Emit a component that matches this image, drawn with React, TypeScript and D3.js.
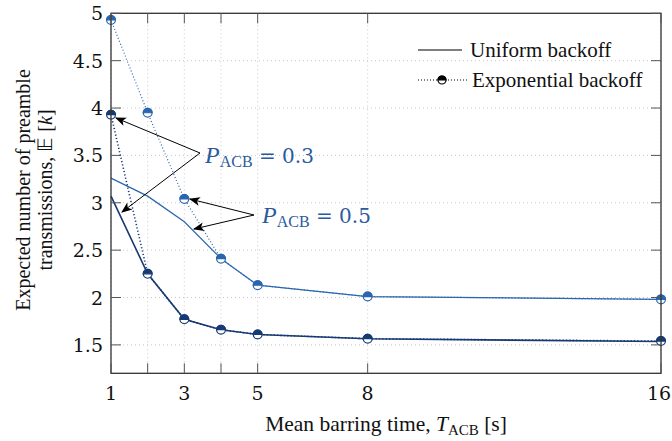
import React from "react";
import * as d3 from "d3";

const xValues = [1, 2, 3, 4, 5, 8, 16];
const uniform03 = [3.07, 2.25, 1.77, 1.66, 1.61, 1.565, 1.535];
const expo03 = [3.93, 2.25, 1.77, 1.66, 1.61, 1.565, 1.54];
const uniform05 = [3.26, 3.07, 2.8, 2.41, 2.13, 2.01, 1.98];
const expo05 = [4.93, 3.95, 3.04, 2.41, 2.13, 2.01, 1.98];
const xTicks = [1, 2, 3, 4, 5, 8, 16];
const xTickLabels = [1, 3, 5, 8, 16];
const yTicks = [1.5, 2, 2.5, 3, 3.5, 4, 4.5, 5];

const DARK = "#173a74";
const BLUE = "#2a66b0";
const TEXTBLUE = "#2a5a9e";
const SERIF = "'Liberation Serif', 'Times New Roman', serif";
const NUMF = "'DejaVu Serif', serif";

const W = 672, H = 441;
const L = 111, R = 661, T = 13.3, B = 373.3;

export default function App() {
  const x = d3.scaleLinear().domain([1, 16]).range([L, R]);
  const y = d3.scaleLinear().domain([1.2, 5]).range([B, T]);
  const line = d3.line<number>().x((_, i) => x(xValues[i])).y((d) => y(d));

  const halfMarker = (cx: number, cy: number, color: string, key: string, r = 4.4) => (
    <g key={key}>
      <circle cx={cx} cy={cy} r={r} fill="white" stroke={color} strokeWidth={1.2} />
      <path d={`M${cx - r},${cy} A${r},${r} 0 0 1 ${cx + r},${cy} Z`} fill={color} stroke={color} strokeWidth={1.2} />
    </g>
  );

  const arrow = (x1: number, y1: number, x2: number, y2: number, key: string) => (
    <line key={key} x1={x1} y1={y1} x2={x2} y2={y2} stroke="black" strokeWidth={1} markerEnd="url(#arrowhead)" />
  );

  const pLabel = (tx: number, ty: number, val: string) => (
    <text x={tx} y={ty} fill={TEXTBLUE} style={{ fontFamily: SERIF }} fontSize={24}>
      <tspan fontStyle="italic">P</tspan>
      <tspan fontSize={16} dy={4}>ACB</tspan>
      <tspan dy={-4} style={{ fontFamily: NUMF }} fontSize={20}> = {val}</tspan>
    </text>
  );

  return (
    <svg width={W} height={H} style={{ position: "absolute", left: 0, top: 0, background: "white" }}>
      <defs>
        <marker id="arrowhead" viewBox="0 0 10 10" refX="9" refY="5" markerWidth="11" markerHeight="11" markerUnits="userSpaceOnUse" orient="auto">
          <path d="M0,1 L10,5 L0,9 L2.5,5 Z" fill="black" />
        </marker>
      </defs>
      <rect x={0} y={0} width={W} height={H} fill="white" />
      {xTicks.map((t) => (
        <line key={"gx" + t} x1={x(t)} x2={x(t)} y1={T} y2={B} stroke="#c8c8c8" strokeWidth={1} strokeDasharray="1 3" />
      ))}
      {yTicks.map((t) => (
        <line key={"gy" + t} x1={L} x2={R} y1={y(t)} y2={y(t)} stroke="#c8c8c8" strokeWidth={1} strokeDasharray="1 3" />
      ))}
      <path d={line(uniform05) || ""} fill="none" stroke={BLUE} strokeWidth={1.2} />
      <path d={line(expo05) || ""} fill="none" stroke={BLUE} strokeWidth={1.2} strokeDasharray="1 2.2" />
      <path d={line(uniform03) || ""} fill="none" stroke={DARK} strokeWidth={1.6} />
      <path d={line(expo03) || ""} fill="none" stroke={DARK} strokeWidth={1.6} strokeDasharray="1.2 2.2" />
      {expo05.map((v, i) => halfMarker(x(xValues[i]), y(v), BLUE, "m5" + i))}
      {expo03.map((v, i) => halfMarker(x(xValues[i]), y(v), DARK, "m3" + i))}
      <rect x={L} y={T} width={R - L} height={B - T} fill="none" stroke="#333" strokeWidth={1.3} />
      {xTicks.map((t) => (
        <g key={"tx" + t}>
          <line x1={x(t)} x2={x(t)} y1={B} y2={B - 10} stroke="#555" strokeWidth={1} />
          <line x1={x(t)} x2={x(t)} y1={T} y2={T + 10} stroke="#555" strokeWidth={1} />
        </g>
      ))}
      {yTicks.map((t) => (
        <g key={"ty" + t}>
          <line x1={L} x2={L + 10} y1={y(t)} y2={y(t)} stroke="#555" strokeWidth={1} />
          <line x1={R} x2={R - 10} y1={y(t)} y2={y(t)} stroke="#555" strokeWidth={1} />
        </g>
      ))}
      {xTickLabels.map((t) => (
        <text key={"lx" + t} x={Math.min(x(t), 659)} y={400} textAnchor="middle" style={{ fontFamily: NUMF }} fontSize={19} fill="#111">{t}</text>
      ))}
      {yTicks.map((t) => (
        <text key={"ly" + t} x={103} y={y(t) + 7} textAnchor="end" style={{ fontFamily: NUMF }} fontSize={19} fill="#111">{t}</text>
      ))}
      <text x={386} y={431} textAnchor="middle" style={{ fontFamily: SERIF }} fontSize={21.5} fill="#111">
        Mean barring time, <tspan fontStyle="italic">T</tspan><tspan fontSize={15} dy={4}>ACB</tspan><tspan dy={-4}> [s]</tspan>
      </text>
      <g transform="translate(30,190) rotate(-90)">
        <text x={0} y={0} textAnchor="middle" style={{ fontFamily: SERIF }} fontSize={20} fill="#111">Expected number of preamble</text>
        <text x={0} y={22} textAnchor="middle" style={{ fontFamily: SERIF }} fontSize={20} fill="#111">
          transmissions, 𝔼 [<tspan fontStyle="italic">k</tspan>]
        </text>
      </g>
      {arrow(200, 153, 116, 118, "a1")}
      {arrow(200, 153, 122, 212, "a2")}
      {pLabel(205, 163, "0.3")}
      {arrow(254, 215, 190, 199, "a3")}
      {arrow(254, 215, 194, 229, "a4")}
      {pLabel(262, 223, "0.5")}
      <line x1={418} x2={462} y1={50} y2={50} stroke="black" strokeWidth={1.2} />
      <text x={470} y={57} style={{ fontFamily: SERIF }} fontSize={21} fill="#111">Uniform backoff</text>
      <line x1={418} x2={468} y1={80} y2={80} stroke="black" strokeWidth={1.2} strokeDasharray="1 2" />
      {halfMarker(442, 80, "black", "lm", 4)}
      <text x={472} y={87} style={{ fontFamily: SERIF }} fontSize={21} fill="#111">Exponential backoff</text>
    </svg>
  );
}
